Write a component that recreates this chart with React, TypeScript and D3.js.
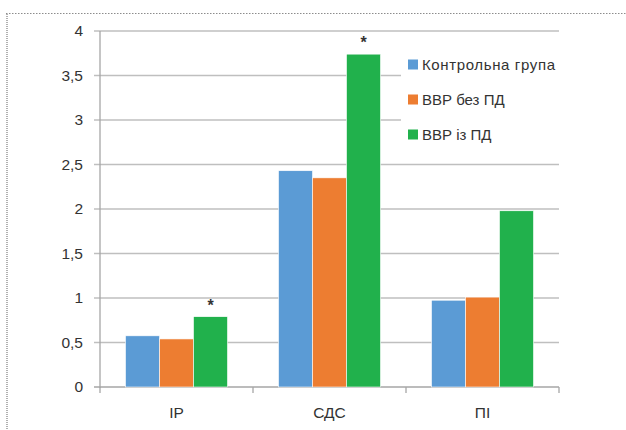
import React from "react";
import * as d3 from "d3";

const categories = ["IP", "СДС", "ПІ"];
const seriesNames = ["Контрольна група", "ВВР без ПД", "ВВР із ПД"];
const control = [0.575, 2.43, 0.975];
const withoutPD = [0.54, 2.35, 1.01];
const withPD = [0.79, 3.74, 1.98];
const significant = [true, true, false];
const yTicks = [0, 0.5, 1, 1.5, 2, 2.5, 3, 3.5, 4];
const colors = ["#5B9BD5", "#ED7D31", "#21B14C"];

const W = 626;
const H = 430;
const margin = { left: 100, right: 67, top: 31, bottom: 43 };

export default function App() {
  const series = [control, withoutPD, withPD];
  const x = d3
    .scaleBand<string>()
    .domain(categories)
    .range([margin.left, W - margin.right]);
  const inner = d3
    .scaleBand<number>()
    .domain([0, 1, 2])
    .range([0, x.bandwidth()])
    .paddingOuter(0.75)
    .paddingInner(0);
  const y = d3.scaleLinear().domain([0, 4]).range([H - margin.bottom, margin.top]);
  const fmt = (v: number) => String(v).replace(".", ",");
  const font = "'Liberation Sans', Arial, sans-serif";
  const textColor = "#333333";

  const legendX = 401;
  const legendY = 40;

  return (
    <svg
      width={W}
      height={H}
      style={{ position: "absolute", left: 0, top: 0, background: "#fff" }}
      fontFamily={font}
    >
      {/* dotted frame */}
      <line x1={6} x2={W} y1={13.5} y2={13.5} stroke="#8c8c8c" strokeWidth={1} strokeDasharray="1.5,1.5" />
      <line x1={7} x2={7} y1={14} y2={H} stroke="#b0b0b0" strokeWidth={2} strokeDasharray="1,1" />

      {/* gridlines */}
      {yTicks.map((t) => (
        <g key={t}>
          <line
            x1={margin.left - 6}
            x2={W - margin.right}
            y1={y(t)}
            y2={y(t)}
            stroke={t === 0 ? "#a6a6a6" : "#bfbfbf"}
            strokeWidth={1.3}
          />
          <text
            x={83}
            y={y(t)}
            dy="0.35em"
            textAnchor="end"
            fontSize={15.5}
            fill={textColor}
          >
            {fmt(t)}
          </text>
        </g>
      ))}
      {/* y axis */}
      <line x1={margin.left} x2={margin.left} y1={y(4)} y2={y(0) + 1} stroke="#a6a6a6" strokeWidth={1.3} />
      {/* x ticks */}
      {[...categories.map((c) => x(c) as number), W - margin.right].map((px, i) => (
        <line key={i} x1={px} x2={px} y1={y(0)} y2={y(0) + 6} stroke="#a6a6a6" strokeWidth={1.3} />
      ))}

      {/* legend background */}
      <rect x={legendX} y={legendY} width={158} height={112} fill="#fff" />

      {/* bars */}
      {categories.map((c, ci) => (
        <g key={c}>
          {series.map((s, si) => {
            const bx = (x(c) as number) + (inner(si) as number);
            return (
              <rect
                key={si}
                x={bx}
                y={y(s[ci])}
                width={inner.bandwidth()}
                height={y(0) - y(s[ci])}
                fill={colors[si]}
                stroke="#fff"
                strokeWidth={0.6}
              />
            );
          })}
          {significant[ci] && (
            <text
              x={(x(c) as number) + (inner(2) as number) + inner.bandwidth() / 2}
              y={y(withPD[ci]) - 6}
              textAnchor="middle"
              fontSize={16}
              fontWeight="bold"
              fill="#333"
            >
              *
            </text>
          )}
          <text
            x={(x(c) as number) + x.bandwidth() / 2}
            y={418}
            textAnchor="middle"
            fontSize={15.5}
            fill={textColor}
          >
            {c}
          </text>
        </g>
      ))}

      {/* legend */}
      {seriesNames.map((n, i) => (
        <g key={n}>
          <rect x={408} y={59.5 + i * 35} width={10} height={10} fill={colors[i]} />
          <text x={422} y={64.5 + i * 35} dy="0.36em" fontSize={15} fill={textColor} textLength={n.length > 12 ? 133 : undefined}>
            {n}
          </text>
        </g>
      ))}
    </svg>
  );
}
